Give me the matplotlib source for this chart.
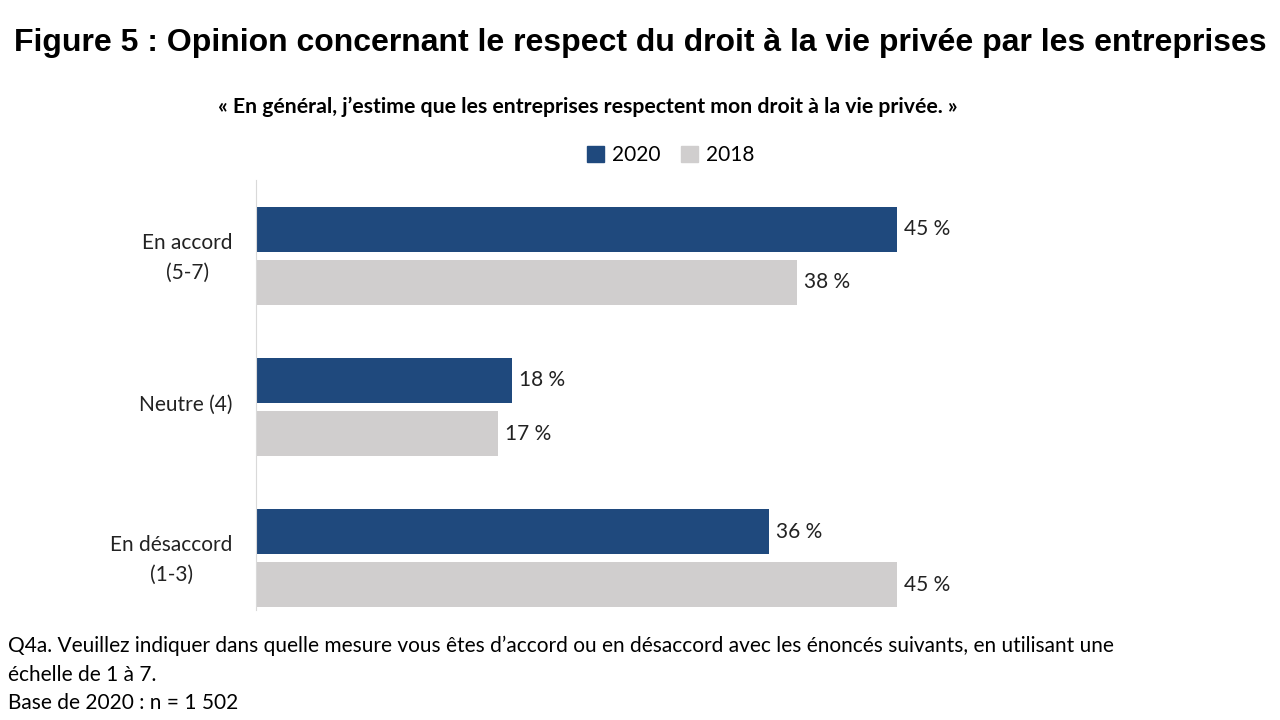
import matplotlib
matplotlib.use("Agg")
import matplotlib.pyplot as plt
import numpy as np
from matplotlib.patches import Patch

categories = ["En accord\n(5-7)", "Neutre (4)", "En désaccord\n(1-3)"]
values_2020 = [45, 18, 36]
values_2018 = [38, 17, 45]
series_names = ["2020", "2018"]

col_2020 = "#1f497d"
col_2018 = "#d0cece"
body_font = "Lato"

fig = plt.figure(figsize=(12.8, 7.2), dpi=100)
ax = fig.add_axes([0.2, 0.1528, 0.78, 0.5972])

y = np.arange(len(categories))
h = 0.298
off = 0.351 / 2
ax.barh(y - off, values_2020, height=h, color=col_2020)
ax.barh(y + off, values_2018, height=h, color=col_2018)

for yi, v in zip(y, values_2020):
    ax.text(v + 0.5, yi - off, f"{v} %", va="center", ha="left",
            fontsize=15, family=body_font, color="#222222")
for yi, v in zip(y, values_2018):
    ax.text(v + 0.5, yi + off, f"{v} %", va="center", ha="left",
            fontsize=15, family=body_font, color="#222222")

ax.set_xlim(0, 70.1)
ax.set_ylim(2.344, -0.503)
ax.set_yticks(y - 0.03)
ax.set_yticklabels(categories, fontsize=15, family=body_font, color="#222222",
                   multialignment="center", linespacing=1.6)
ax.tick_params(axis="y", length=0, pad=17)
ax.set_xticks([])
for s in ["top", "right", "bottom"]:
    ax.spines[s].set_visible(False)
ax.spines["left"].set_color("#d9d9d9")

fig.text(0.5, 0.94, "Figure 5 : Opinion concernant le respect du droit à la vie privée par les entreprises",
         ha="center", va="center", fontsize=23, fontweight="bold", family="Liberation Sans")
fig.text(0.459, 0.851, "« En général, j’estime que les entreprises respectent mon droit à la vie privée. »",
         ha="center", va="center", fontsize=15.3, fontweight="bold", family=body_font)

handles = [Patch(color=col_2020), Patch(color=col_2018)]
leg = fig.legend(handles, series_names, loc="center", bbox_to_anchor=(0.524, 0.785),
                 ncol=2, frameon=False, handlelength=0.8, handleheight=0.8,
                 columnspacing=1.0, handletextpad=0.4, prop={"family": body_font, "size": 15})

fig.text(0.006, 0.103, "Q4a. Veuillez indiquer dans quelle mesure vous êtes d’accord ou en désaccord avec les énoncés suivants, en utilisant une",
         ha="left", va="center", fontsize=15, family=body_font)
fig.text(0.006, 0.063, "échelle de 1 à 7.", ha="left", va="center", fontsize=15, family=body_font)
fig.text(0.006, 0.024, "Base de 2020 : n = 1 502", ha="left", va="center", fontsize=15, family=body_font)

fig.savefig("out.png", dpi=100)
